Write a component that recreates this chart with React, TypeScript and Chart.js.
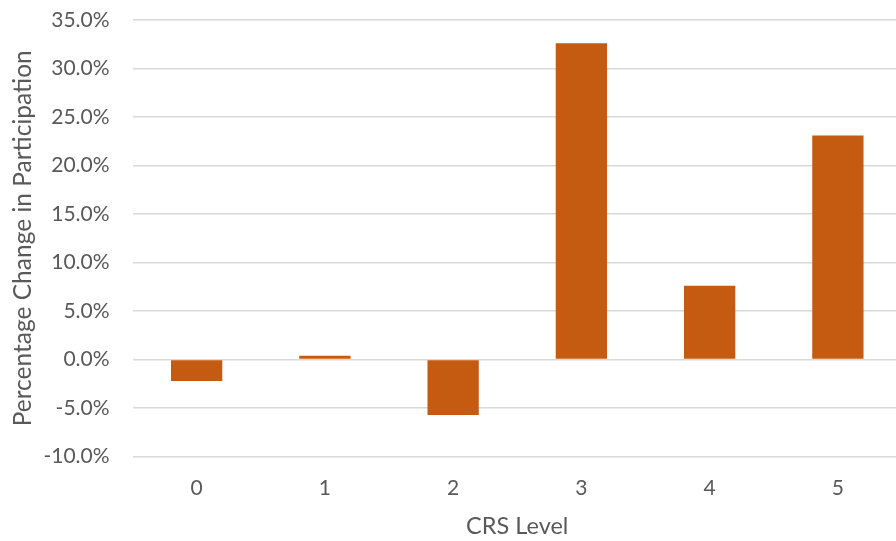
import React, { useEffect, useRef } from "react";
import { Chart, registerables } from "chart.js";

Chart.register(...registerables);

const categories = ["0", "1", "2", "3", "4", "5"];
const changeValues = [-2.2, 0.4, -5.7, 32.6, 7.6, 23.1];
const yMin = -10;
const yMax = 35;
const yStep = 5;

const FONT = "Lato, 'Open Sans', sans-serif";
const GRAY = "#595959";

export default function App() {
  const ref = useRef<HTMLCanvasElement | null>(null);
  useEffect(() => {
    if (!ref.current) return;
    const chart = new Chart(ref.current, {
      type: "bar",
      data: {
        labels: categories,
        datasets: [
          {
            data: changeValues,
            backgroundColor: "#C55A11",
            borderWidth: 0,
            categoryPercentage: 1,
            barPercentage: 0.4,
          },
        ],
      },
      options: {
        responsive: false,
        animation: false,
        plugins: { legend: { display: false }, tooltip: { enabled: false } },
        layout: { padding: { top: 20, left: 8, right: 0, bottom: 0 } },
        scales: {
          x: {
            grid: {
              display: true,
              color: "rgba(0,0,0,0)",
              drawTicks: true,
              tickLength: 15,
              tickColor: "rgba(0,0,0,0)",
            },
            border: { display: false },
            ticks: { color: GRAY, font: { family: FONT, size: 21 }, padding: 4 },
            title: {
              display: true,
              text: "CRS Level",
              color: GRAY,
              font: { family: FONT, size: 23.5 },
              padding: { top: 8, bottom: 0 },
            },
          },
          y: {
            min: yMin,
            max: yMax,
            grid: {
              color: "#d9d9d9",
              lineWidth: 1.5,
              drawTicks: true,
              tickLength: 19,
              tickColor: "rgba(0,0,0,0)",
            },
            border: { display: false },
            ticks: {
              stepSize: yStep,
              color: GRAY,
              font: { family: FONT, size: 21 },
              padding: 4,
              callback: (v: any) => Number(v).toFixed(1) + "%",
            },
            title: {
              display: true,
              text: "Percentage Change in Participation",
              color: GRAY,
              font: { family: FONT, size: 24.5 },
              padding: { top: 0, bottom: 2 },
            },
          },
        },
      },
    });
    return () => chart.destroy();
  }, []);
  return (
    <div style={{ position: "fixed", left: 0, top: 0, width: 902, height: 541, background: "#fff" }}>
      <canvas ref={ref} width={902} height={541} />
    </div>
  );
}
